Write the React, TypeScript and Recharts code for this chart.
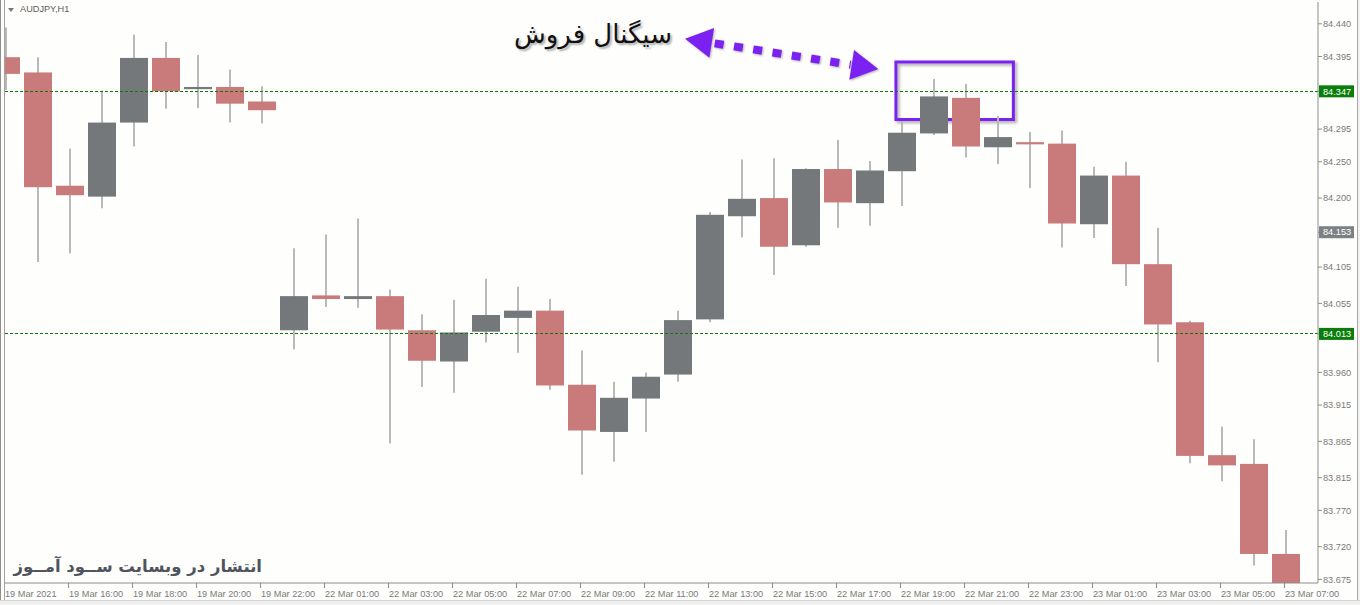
import { ComposedChart, Bar, XAxis, YAxis, ReferenceLine, ReferenceArea } from "recharts";

// AUDJPY H1 candles
const times = [
  "19 Mar 14:00", "19 Mar 15:00", "19 Mar 16:00", "19 Mar 17:00", "19 Mar 18:00",
  "19 Mar 19:00", "19 Mar 20:00", "19 Mar 21:00", "19 Mar 22:00",
  "22 Mar 00:00", "22 Mar 01:00", "22 Mar 02:00", "22 Mar 03:00", "22 Mar 04:00",
  "22 Mar 05:00", "22 Mar 06:00", "22 Mar 07:00", "22 Mar 08:00", "22 Mar 09:00",
  "22 Mar 10:00", "22 Mar 11:00", "22 Mar 12:00", "22 Mar 13:00", "22 Mar 14:00",
  "22 Mar 15:00", "22 Mar 16:00", "22 Mar 17:00", "22 Mar 18:00", "22 Mar 19:00",
  "22 Mar 20:00", "22 Mar 21:00", "22 Mar 22:00", "22 Mar 23:00",
  "23 Mar 00:00", "23 Mar 01:00", "23 Mar 02:00", "23 Mar 03:00", "23 Mar 04:00",
  "23 Mar 05:00", "23 Mar 06:00", "23 Mar 07:00",
];
const opens = [
  84.394, 84.373, 84.217, 84.202, 84.304, 84.393, 84.350, 84.353, 84.333,
  84.018, 84.066, 84.061, 84.065, 84.018, 83.975, 84.016, 84.035, 84.045, 83.943,
  83.878, 83.924, 83.957, 84.033, 84.175, 84.200, 84.135, 84.240, 84.193, 84.237,
  84.289, 84.338, 84.270, 84.277,
  84.275, 84.164, 84.231, 84.109, 84.029, 83.846, 83.834, 83.710,
];
const highs = [
  84.435, 84.394, 84.268, 84.348, 84.425, 84.415, 84.397, 84.377, 84.354,
  84.131, 84.150, 84.172, 84.074, 84.040, 84.060, 84.089, 84.078, 84.061, 83.990,
  83.947, 83.960, 84.045, 84.181, 84.253, 84.255, 84.241, 84.280, 84.251, 84.306,
  84.364, 84.357, 84.313, 84.291,
  84.293, 84.243, 84.250, 84.159, 84.031, 83.885, 83.868, 83.743,
];
const lows = [
  84.349, 84.112, 84.124, 84.186, 84.271, 84.323, 84.324, 84.304, 84.303,
  83.992, 84.050, 84.049, 83.862, 83.940, 83.932, 84.001, 83.987, 83.936, 83.819,
  83.837, 83.878, 83.947, 84.029, 84.146, 84.094, 84.133, 84.159, 84.162, 84.189,
  84.287, 84.256, 84.247, 84.214,
  84.132, 84.145, 84.079, 83.974, 83.835, 83.810, 83.694, 83.655,
];
const closes = [
  84.371, 84.215, 84.204, 84.304, 84.393, 84.347, 84.353, 84.330, 84.321,
  84.065, 84.061, 84.065, 84.019, 83.976, 84.015, 84.039, 84.045, 83.942, 83.880,
  83.925, 83.954, 84.032, 84.177, 84.199, 84.133, 84.240, 84.194, 84.238, 84.290,
  84.340, 84.271, 84.284, 84.274,
  84.165, 84.231, 84.109, 84.026, 83.845, 83.832, 83.710, 83.662,
];

const tickTimes = [
  "19 Mar 14:00", "19 Mar 16:00", "19 Mar 18:00", "19 Mar 20:00", "19 Mar 22:00",
  "22 Mar 01:00", "22 Mar 03:00", "22 Mar 05:00", "22 Mar 07:00", "22 Mar 09:00",
  "22 Mar 11:00", "22 Mar 13:00", "22 Mar 15:00", "22 Mar 17:00", "22 Mar 19:00",
  "22 Mar 21:00", "22 Mar 23:00", "23 Mar 01:00", "23 Mar 03:00", "23 Mar 05:00",
  "23 Mar 07:00",
];
const tickLabels = ["19 Mar 2021", ...tickTimes.slice(1)];

const yTicks = [
  84.44, 84.395, 84.347, 84.295, 84.25, 84.2, 84.153, 84.105, 84.055, 84.013,
  83.96, 83.915, 83.865, 83.815, 83.77, 83.72, 83.675,
];
const greenLevels = [84.347, 84.013];
const grayLevels = [84.153];

// signal annotation, in (bar index, price)
const arrowFrom = { x: 21.22, y: 84.4195 };
const arrowTo = { x: 27.26, y: 84.3776 };
const signalBox = { x1: 27.81, x2: 31.48, y1: 84.3082, y2: 84.3874 };

const data = times.map((t, i) => ({
  time: t,
  idx: i,
  range: [lows[i], highs[i]],
  open: opens[i],
  high: highs[i],
  low: lows[i],
  close: closes[i],
}));

const BG = "#fefefc";
const AXIS = "#8c8c8c";
const TXT = "#7a7a7a";
const BULL = "#74787b";
const BEAR = "#c97a7a";
const WICK = "#b9b9b9";
const PURPLE = "#7b22f2";
const FONT = "'Liberation Sans', Arial, sans-serif";

const Candle = (props: any) => {
  const { x, y, width, height, payload } = props;
  const top = Math.min(y, y + height);
  const h = Math.abs(height);
  const { open, close, high, low } = payload;
  const px = (v: number) => (high === low ? top : top + ((high - v) / (high - low)) * h);
  const cx = x + width / 2;
  const bodyTop = px(Math.max(open, close));
  const bodyH = Math.max(px(Math.min(open, close)) - bodyTop, 2);
  return (
    <g>
      <line x1={cx} x2={cx} y1={top} y2={top + h} stroke={WICK} strokeWidth={2} />
      <rect x={x} y={bodyTop} width={width} height={bodyH} fill={close >= open ? BULL : BEAR} />
    </g>
  );
};

const XTick = ({ x, y, payload }: any) => {
  const k = tickTimes.indexOf(payload.value);
  if (k < 0) return <g />;
  return (
    <g>
      {k > 0 && <line x1={x - 1.5} x2={x - 1.5} y1={y} y2={y + 5} stroke={AXIS} />}
      <text x={x - 1} y={y + 14} fontSize={9.2} fontFamily={FONT} fill={TXT}>
        {tickLabels[k]}
      </text>
    </g>
  );
};

const YTick = ({ x, y, payload }: any) => {
  const v = payload.value;
  const green = greenLevels.includes(v);
  const gray = grayLevels.includes(v);
  return (
    <g>
      <line x1={x} x2={x + 4} y1={y} y2={y} stroke={AXIS} />
      {(green || gray) && (
        <rect x={x + 1} y={y - 6} width={35} height={12} fill={green ? "#0a7d0a" : "#7d8185"} />
      )}
      <text x={x + 5} y={y} dy="0.35em" fontSize={9.2} fontFamily={FONT} fill={green || gray ? "#ffffff" : TXT}>
        {v.toFixed(3)}
      </text>
    </g>
  );
};

const DoubleArrow = (p: any) => {
  const { x1, y1, x2, y2 } = p;
  const dx = x2 - x1;
  const dy = y2 - y1;
  const len = Math.hypot(dx, dy);
  const ux = dx / len;
  const uy = dy / len;
  const nx = -uy;
  const ny = ux;
  const hl = 27;
  const hw = 15;
  const head = (tx: number, ty: number, dir: number) => {
    const bx = tx + dir * ux * hl;
    const by = ty + dir * uy * hl;
    return `${tx},${ty} ${bx + nx * hw},${by + ny * hw} ${bx - nx * hw},${by - ny * hw}`;
  };
  return (
    <g style={{ filter: "drop-shadow(1.5px 1.5px 1px rgba(0,0,0,0.3))" }}>
      <line
        x1={x1 + ux * (hl + 3)}
        y1={y1 + uy * (hl + 3)}
        x2={x2 - ux * (hl + 1)}
        y2={y2 - uy * (hl + 1)}
        stroke={PURPLE}
        strokeWidth={8}
        strokeDasharray="9 10.5"
      />
      <polygon points={head(x1, y1, 1)} fill={PURPLE} />
      <polygon points={head(x2, y2, -1)} fill={PURPLE} />
    </g>
  );
};

const SignalRect = (p: any) => (
  <rect
    x={p.x}
    y={p.y}
    width={p.width}
    height={p.height}
    fill="none"
    stroke={PURPLE}
    strokeWidth={3}
    style={{ filter: "drop-shadow(2px 2px 1.5px rgba(0,0,0,0.35))" }}
  />
);

export default function App() {
  return (
    <div style={{ position: "relative", width: 1360, height: 605, background: BG, overflow: "hidden" }}>
      <style>{"body{margin:0}"}</style>
      <ComposedChart width={1360} height={605} data={data} margin={{ top: 2, right: 0, bottom: 0, left: -10 }}>
        <XAxis
          dataKey="time"
          type="category"
          interval={0}
          ticks={tickTimes}
          padding={{ left: 0, right: 16 }}
          height={22}
          tickSize={0}
          tickMargin={0}
          axisLine={{ stroke: AXIS }}
          tickLine={false}
          tick={XTick}
        />
        <XAxis
          xAxisId="n"
          dataKey="idx"
          type="number"
          domain={[-0.5, 40.5]}
          allowDataOverflow
          padding={{ left: 0, right: 16 }}
          hide
        />
        <YAxis
          orientation="right"
          width={42}
          domain={[83.67, 84.47]}
          allowDataOverflow
          ticks={yTicks}
          interval={0}
          tickSize={0}
          tickMargin={0}
          axisLine={{ stroke: AXIS }}
          tickLine={false}
          tick={YTick}
        />
        {greenLevels.map((lv) => (
          <ReferenceLine
            key={lv}
            y={lv}
            stroke="#0a7a0a"
            strokeWidth={1}
            strokeDasharray="3 2"
            shapeRendering="crispEdges"
          />
        ))}
        <Bar dataKey="range" barSize={28} shape={Candle} isAnimationActive={false} />
        <ReferenceArea
          xAxisId="n"
          x1={signalBox.x1}
          x2={signalBox.x2}
          y1={signalBox.y1}
          y2={signalBox.y2}
          ifOverflow="visible"
          shape={SignalRect}
        />
        <ReferenceLine xAxisId="n" segment={[arrowFrom, arrowTo]} ifOverflow="visible" shape={DoubleArrow} />
      </ComposedChart>

      {/* frame pieces around the plot */}
      <div style={{ position: "absolute", left: 0, top: 0, width: 3, height: 600, background: BG, borderLeft: "1px solid #8f8f8f", borderRight: "1px solid #a3a3a3" }} />
      <div style={{ position: "absolute", left: 1357, top: 0, width: 3, height: 600, background: "#f2f2f2", borderLeft: "1px solid #a8a8a8" }} />
      <div style={{ position: "absolute", left: 0, top: 600, width: 1360, height: 5, background: "#efefef", borderTop: "1px solid #d4d4d4" }} />

      <div style={{ position: "absolute", left: 8, top: 8, width: 0, height: 0, borderLeft: "3px solid transparent", borderRight: "3px solid transparent", borderTop: "4px solid #777" }} />
      <div style={{ position: "absolute", left: 20, top: 4, fontSize: 9.2, fontFamily: FONT, color: "#5a5a5a" }}>AUDJPY,H1</div>

      <div
        dir="rtl"
        style={{
          position: "absolute",
          right: 688,
          top: 17,
          fontSize: 26,
          lineHeight: "34px",
          fontFamily: "'DejaVu Sans', sans-serif",
          color: "#111",
          whiteSpace: "nowrap",
          textShadow: "2px 2px 2px rgba(0,0,0,0.3)",
        }}
      >
        سیگنال فروش
      </div>
      <div
        dir="rtl"
        style={{
          position: "absolute",
          right: 1098,
          top: 553,
          fontSize: 16.5,
          lineHeight: "28px",
          fontWeight: "bold",
          fontFamily: "'DejaVu Sans', sans-serif",
          color: "#50545c",
          whiteSpace: "nowrap",
        }}
      >
        انتشار در وبسایت ســود آمــوز
      </div>
    </div>
  );
}
